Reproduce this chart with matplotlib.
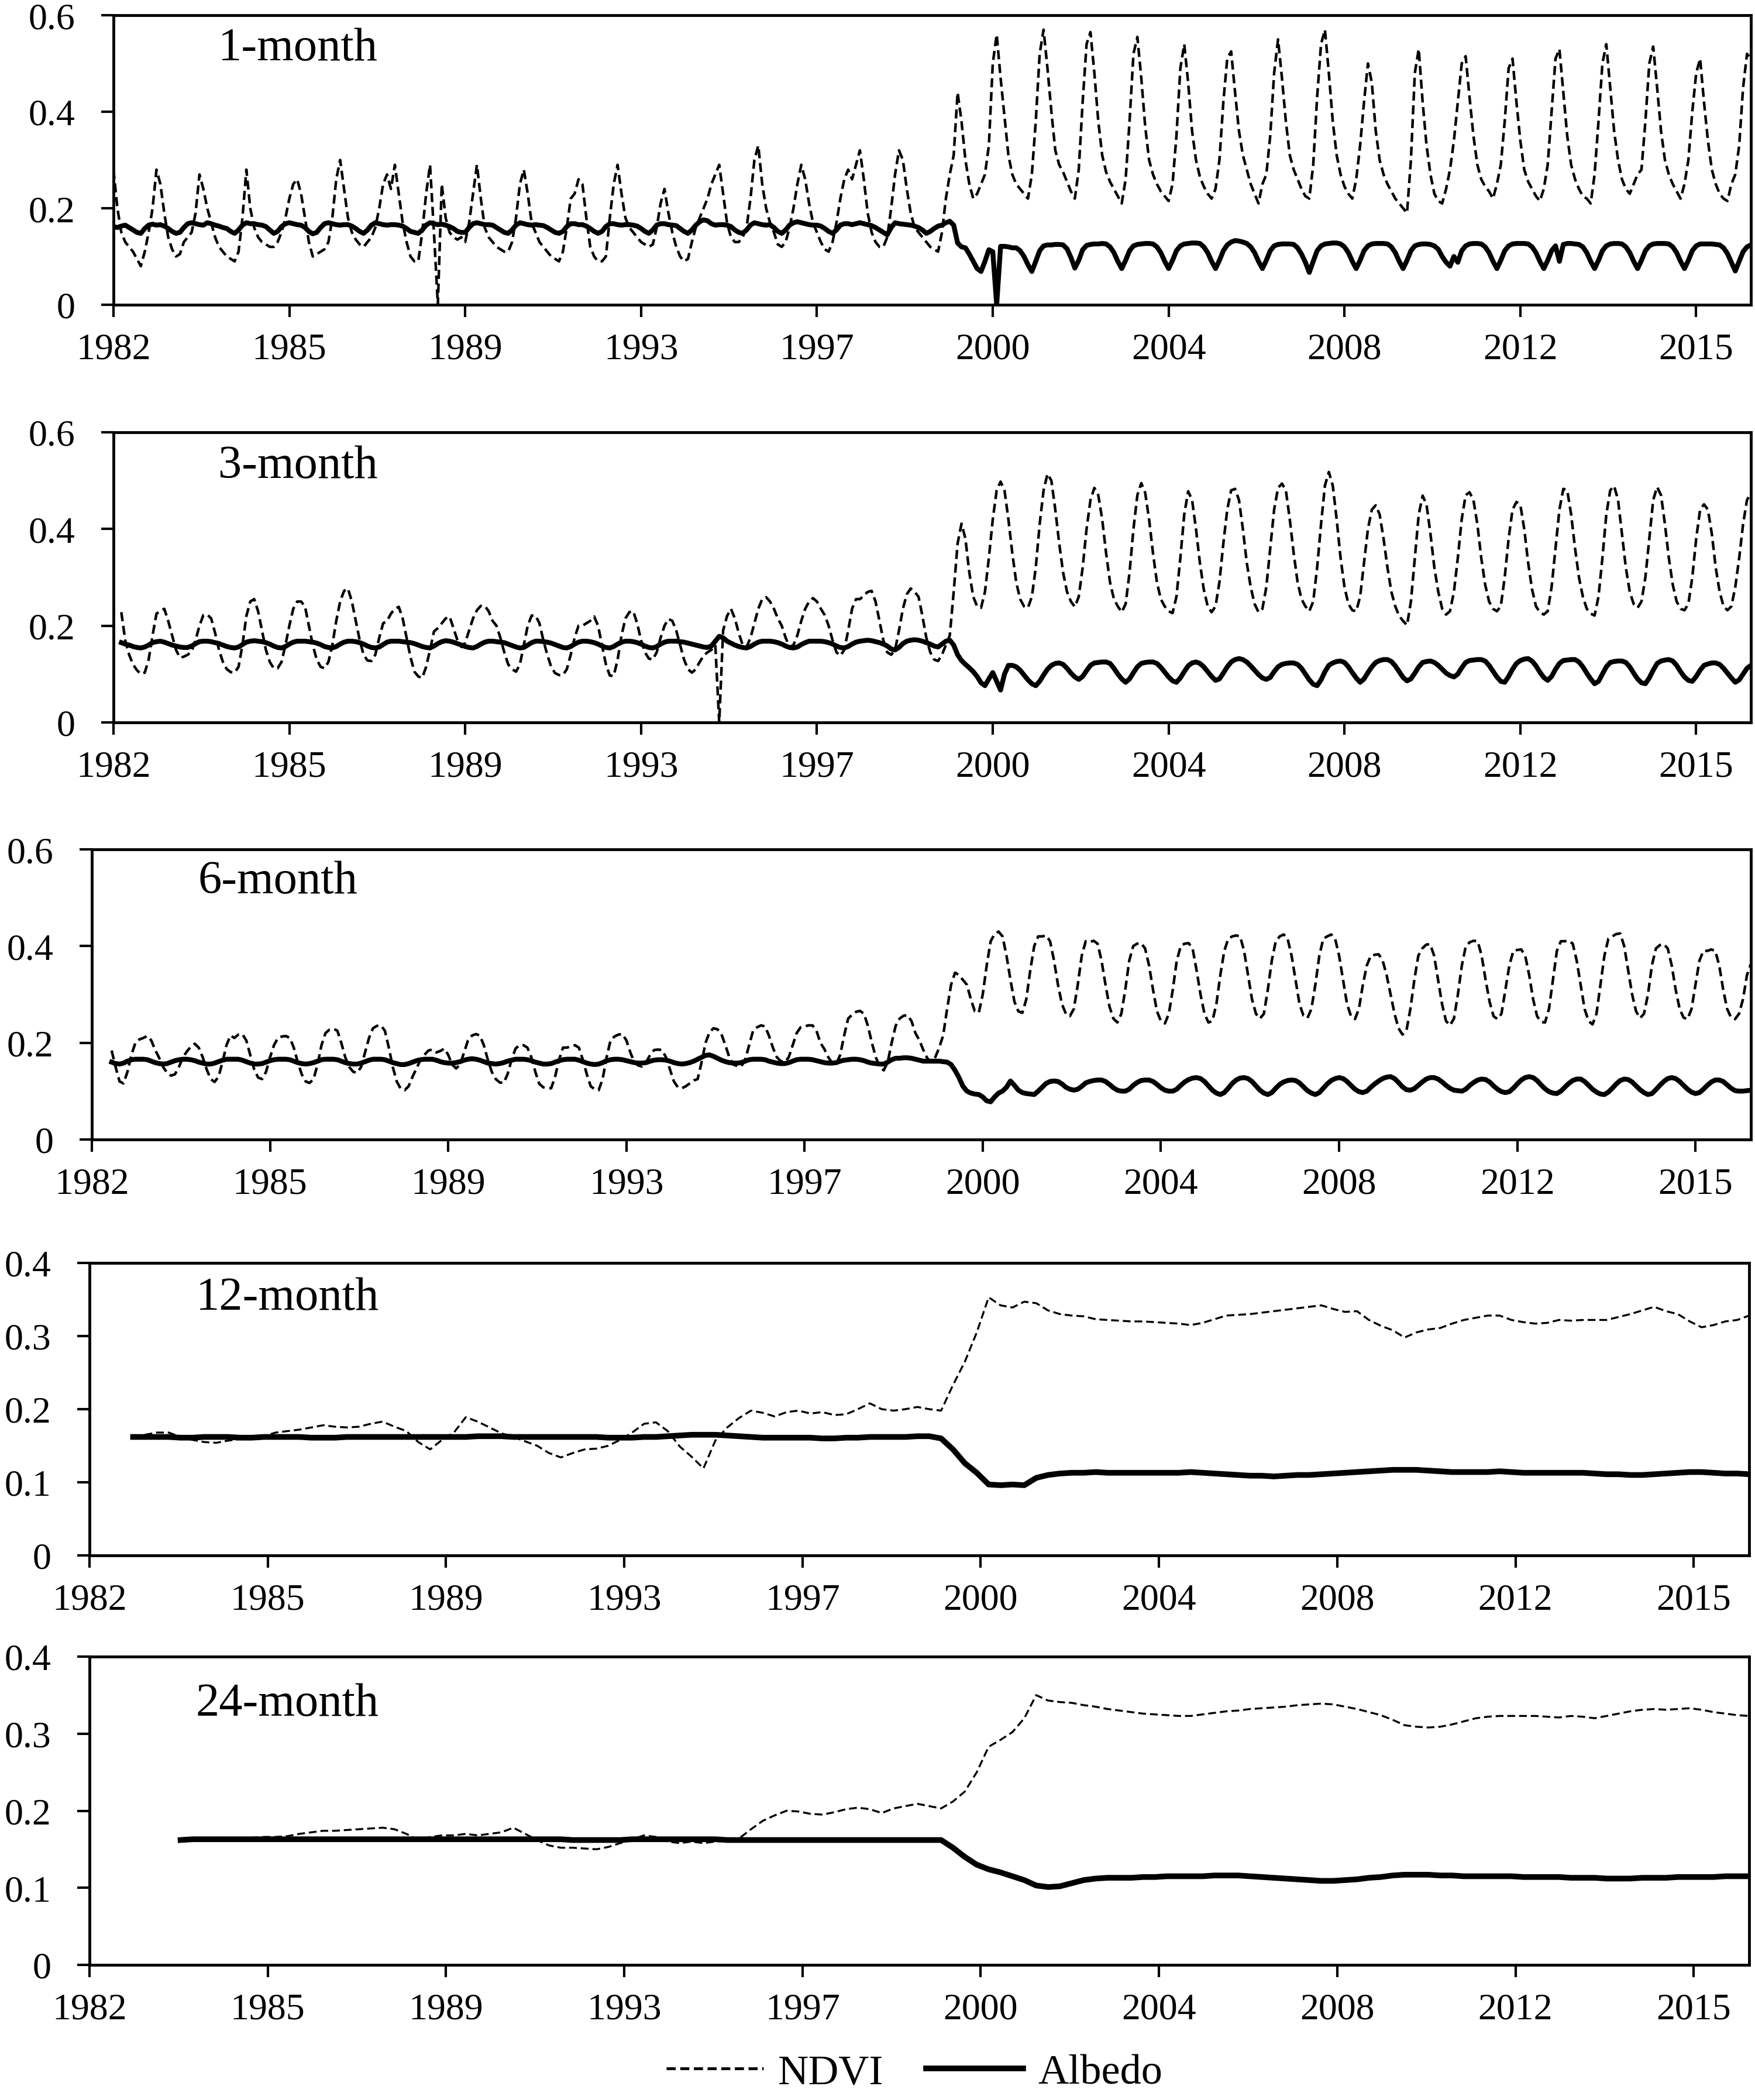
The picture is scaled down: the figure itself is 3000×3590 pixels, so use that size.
import numpy as np
import matplotlib
matplotlib.use("Agg")
import matplotlib.pyplot as plt
from matplotlib.lines import Line2D

plt.rcParams["font.family"] = ["Liberation Serif", "DejaVu Serif"]

# x axis is a monthly category axis (Jan 1982 .. Dec 2016), labelled every 45 months
YEAR_LABELS = ["1982", "1985", "1989", "1993", "1997",
               "2000", "2004", "2008", "2012", "2015"]
LABEL_STEP = 45
N_MONTHS = 420

# values in 1/1000, one row per year (12 months), "-" = no value
NDVI_1 = """
280 200 150 130 120 110 095 080 110 150 200 280
250 190 140 115 100 105 130 140 150 190 270 240
200 170 140 120 110 100 095 090 110 180 280 200
160 140 130 125 120 120 130 150 180 220 250 260
230 180 130 100 105 110 115 130 180 260 300 240
180 150 135 125 120 130 140 160 200 250 270 240
290 230 170 130 100 090 090 150 230 290 150 000
250 180 150 140 135 140 130 170 230 290 220 160
140 130 120 115 110 110 130 180 250 280 230 170
150 130 120 110 100 095 090 110 160 220 230 260
250 180 120 100 090 090 100 180 250 290 230 180
160 150 140 130 125 120 125 160 210 240 190 150
120 100 090 095 130 160 180 200 220 250 270 290
230 170 140 130 130 140 160 220 300 330 250 200
170 150 125 120 130 160 200 250 290 260 210 170
150 130 115 110 130 170 220 260 280 260 290 320
260 190 150 130 120 120 140 200 270 320 300 240
190 160 150 140 130 120 115 110 150 220 270 310
440 380 300 250 220 230 250 270 330 500 560 470
390 310 270 250 240 230 220 270 380 520 570 490
400 320 290 275 255 235 220 280 420 540 565 480
380 310 275 255 240 225 210 260 380 520 555 470
370 300 270 250 235 225 215 250 350 490 540 460
360 300 265 245 230 220 240 300 420 510 525 440
360 310 280 250 230 210 250 270 350 480 550 470
380 310 280 260 240 225 220 290 430 540 570 480
380 310 270 245 230 220 260 330 420 500 460 360
300 270 250 235 220 210 200 190 300 480 530 420
330 270 230 215 210 240 280 340 420 500 515 430
350 290 260 245 235 220 250 290 380 490 510 420
340 280 255 240 225 215 240 290 400 510 530 440
350 290 260 240 225 220 210 270 380 500 540 450
360 300 260 240 230 250 270 280 380 500 535 450
360 300 270 250 235 220 250 300 400 480 510 420
340 280 250 230 220 215 250 270 330 450 520 510
"""

ALBEDO_1 = """
162 160 163 165 160 155 150 148 158 165 167 165
166 163 158 152 148 150 160 168 170 168 166 165
170 168 165 163 160 158 152 148 155 165 170 168
168 166 165 162 155 148 152 162 168 170 168 166
165 160 152 147 150 160 168 170 168 166 165 166
166 163 158 152 148 155 165 170 168 166 165 166
166 165 163 158 152 150 148 155 165 170 168 166
167 165 162 158 152 150 150 160 168 170 168 166
166 165 160 155 150 148 155 165 170 168 166 165
166 165 164 160 155 150 148 152 162 168 168 166
166 163 158 152 148 152 162 168 168 166 165 166
166 165 163 158 152 148 155 165 168 168 166 165
164 158 152 148 155 165 172 176 174 168 165 166
166 165 162 155 150 148 155 165 170 168 166 165
166 160 152 148 155 165 170 172 170 168 166 165
165 163 158 152 148 155 165 168 168 166 168 170
168 166 164 160 155 150 145 160 170 168 167 166
165 163 160 155 148 152 158 163 165 170 173 165
128 120 118 105 090 075 069 090 114 110 000 121
121 120 118 118 112 100 083 069 090 112 122 124
124 125 125 124 116 098 076 092 114 123 125 126
126 127 126 120 108 090 075 092 112 122 125 126
127 127 126 120 108 090 075 092 112 122 126 127
128 128 127 120 108 090 075 092 112 124 130 133
132 130 127 120 108 090 075 092 112 122 125 126
126 126 125 118 105 088 067 090 112 122 126 127
128 128 126 120 108 090 075 092 112 122 126 127
127 127 126 120 108 090 075 092 112 122 125 126
126 125 122 115 100 088 080 100 088 112 122 126
127 127 126 120 108 090 075 092 112 122 126 127
127 127 126 120 108 090 075 092 112 122 090 125
127 127 126 125 120 108 090 075 092 112 122 126
127 127 126 120 108 090 075 092 112 122 126 127
127 127 126 120 108 090 075 092 112 122 126 126
126 126 125 124 118 106 088 070 090 110 120 124
"""

NDVI_3 = """
- - 228 170 140 120 108 100 103 130 180 225
230 235 210 180 150 134 136 140 147 170 200 222
223 215 185 150 125 110 104 103 115 160 220 250
255 230 190 150 125 112 112 125 160 200 235 250
250 240 200 160 130 115 112 125 160 210 250 272
277 250 210 170 140 128 127 140 175 205 210 225
235 239 215 175 135 105 095 092 115 150 188 195
205 215 219 195 170 156 165 190 215 232 241 241
230 210 200 175 145 120 110 105 120 160 200 221
221 205 170 140 115 102 098 098 110 140 175 200
200 205 210 219 200 160 120 097 096 130 180 215
228 230 205 170 145 132 130 145 175 200 214 210
190 160 130 110 103 110 125 138 145 150 160 000
190 220 235 215 185 160 156 175 205 235 255 259
250 235 215 200 175 156 160 180 210 235 250 257
250 235 222 200 170 145 138 150 190 235 255 255
262 270 272 250 210 170 145 140 150 190 235 265
277 270 260 220 175 145 130 127 140 160 180 270
370 411 380 310 260 240 237 270 340 420 480 498
480 420 350 290 255 240 237 260 320 410 480 514
500 440 370 310 270 250 239 260 320 400 460 485
470 420 350 290 255 240 228 245 310 400 470 495
475 420 350 290 255 240 230 226 260 340 430 478
460 400 330 275 240 228 240 290 370 440 480 483
460 400 330 280 245 228 235 280 360 440 485 494
480 420 350 290 255 240 230 250 320 410 490 518
490 420 340 280 245 232 230 260 330 400 440 449
430 380 320 270 240 220 210 201 250 340 430 469
450 390 320 270 235 223 230 270 340 420 470 476
460 410 340 285 250 235 230 240 300 380 440 456
450 400 330 275 240 228 223 230 280 360 440 483
480 430 360 300 260 235 225 221 260 340 430 480
489 460 390 320 270 245 237 250 300 380 460 487
470 410 340 285 250 235 232 245 300 380 440 451
440 390 320 270 240 232 240 280 340 410 460 474
"""

ALBEDO_3 = """
- - 165 162 160 157 155 154 156 160 165 167
168 166 163 160 158 156 155 155 158 163 167 168
168 167 165 163 160 157 155 154 156 161 166 168
169 168 167 165 162 158 155 154 157 162 166 168
168 168 167 166 164 161 157 155 154 157 162 166
168 168 167 165 162 158 155 154 156 161 166 168
168 168 167 166 165 163 160 157 155 154 158 163
167 169 168 166 163 160 157 155 154 157 162 166
168 168 167 166 165 162 159 156 154 155 160 165
168 168 167 166 164 161 158 155 154 157 162 166
168 168 167 165 162 158 155 154 157 162 166 168
168 167 165 162 158 155 154 157 162 166 168 168
168 167 166 164 162 160 158 156 155 158 168 178
175 168 164 160 157 155 154 157 162 166 168 168
168 167 165 162 158 155 154 156 161 165 168 168
168 168 167 165 162 158 155 154 157 162 166 168
169 170 169 167 165 162 158 152 150 155 163 168
170 171 170 168 165 162 158 156 162 168 170 160
140 128 120 113 105 095 082 076 090 103 085 067
100 118 118 115 108 098 088 080 076 085 098 110
118 122 123 120 112 102 094 089 095 107 118 123
124 125 125 122 112 100 090 083 090 103 115 122
124 125 125 122 114 104 094 086 083 092 105 117
123 125 122 115 105 095 087 090 102 115 125 130
132 130 125 117 108 099 092 089 093 105 115 120
122 123 123 120 112 100 088 079 076 088 105 118
123 126 127 124 115 103 092 083 090 103 115 124
128 130 130 126 117 105 093 086 090 102 115 124
126 127 124 118 110 102 097 094 100 113 124 128
129 130 130 127 118 106 094 085 083 095 110 122
128 131 132 127 117 104 093 087 095 110 122 128
129 130 130 125 115 102 090 080 085 100 115 124
126 127 127 124 115 102 090 082 080 092 108 122
127 129 130 127 118 105 094 087 085 095 108 118
121 123 123 120 112 102 092 083 088 100 112 118
"""

NDVI_6 = """
- - - - - 184 150 120 116 140 175 200
207 210 214 205 185 169 150 138 132 135 150 170
182 192 198 190 170 145 125 119 130 160 195 215
210 217 218 205 175 145 128 125 140 170 195 210
213 214 210 190 160 135 120 117 125 155 195 220
227 229 225 200 170 150 140 138 150 180 210 230
235 236 225 190 150 120 105 102 110 130 147 165
175 184 186 180 183 188 175 155 147 155 180 205
215 218 215 195 165 140 125 118 117 135 165 188
195 195 190 170 140 115 108 106 106 130 165 190
190 193 195 190 165 135 110 104 102 125 170 205
213 217 218 205 180 160 153 151 160 175 185 186
185 170 145 120 108 106 110 116 122 125 160 200
222 230 228 218 195 170 155 152 151 165 195 225
232 236 234 215 190 170 162 160 170 195 220 232
234 236 236 225 200 187 170 158 156 175 215 250
258 264 266 260 235 200 170 150 143 160 200 235
250 256 257 245 220 205 185 168 160 170 190 215
270 320 345 340 330 320 290 265 262 300 360 410
425 430 420 380 330 285 265 262 290 350 400 420
420 422 410 370 320 280 260 255 270 320 380 410
408 411 405 370 320 275 250 242 260 310 370 400
405 406 395 360 310 265 245 240 260 310 370 400
405 406 395 350 300 260 242 245 280 340 390 415
420 422 420 390 340 290 260 250 260 310 370 410
420 424 415 380 330 280 256 251 270 320 380 415
420 424 415 380 330 280 255 249 270 320 360 380
382 383 370 340 300 260 230 217 225 270 330 380
395 403 404 380 330 280 245 236 250 300 360 400
408 411 410 380 330 285 255 249 260 310 360 390
392 393 380 340 290 255 243 242 270 330 390 410
410 411 405 370 320 270 245 238 260 320 380 415
420 425 426 400 350 300 265 251 260 300 360 395
402 404 395 360 310 270 252 249 270 320 370 390
390 393 390 360 310 270 252 249 260 290 340 363
"""

ALBEDO_6 = """
- - - - - 160 157 156 158 162 165 166
166 166 165 162 159 157 156 157 160 163 165 166
166 165 163 160 158 156 156 158 161 164 166 166
166 166 164 161 158 156 156 157 160 163 165 166
166 166 165 162 159 157 156 157 159 162 165 166
166 166 165 162 159 157 156 156 158 161 164 166
166 166 165 162 159 157 155 155 157 160 163 165
166 166 166 164 161 159 158 158 159 161 164 166
167 166 164 161 158 157 156 157 159 162 164 166
166 166 165 163 160 158 156 156 157 160 163 165
166 166 166 164 161 158 156 155 156 159 163 165
166 166 165 163 161 159 158 158 159 162 164 165
165 164 162 159 157 156 157 159 162 166 170 174
175 172 168 164 161 159 158 158 159 162 165 166
166 166 165 162 160 158 157 157 159 162 165 166
166 166 165 163 161 159 158 158 159 162 164 165
166 166 165 163 160 158 157 156 156 160 165 168
168 169 169 168 166 164 162 162 162 162 162 161
160 155 143 128 110 100 096 094 093 088 080 078
088 096 100 108 121 112 102 097 095 094 093 100
108 116 120 121 120 115 108 104 102 104 110 117
120 122 123 123 120 114 107 102 100 100 104 112
118 122 123 123 120 114 107 102 100 100 104 112
119 124 127 128 126 120 111 102 096 093 097 106
116 123 127 128 126 120 111 102 096 093 097 106
114 119 122 123 122 117 109 101 096 093 097 106
115 122 126 128 126 120 112 104 099 097 100 108
115 121 126 129 130 126 118 109 103 102 105 112
119 125 128 128 125 119 112 106 102 101 100 104
112 118 123 125 124 119 111 104 099 097 099 106
115 123 128 130 128 122 113 105 099 096 095 100
108 116 122 125 125 120 112 104 098 094 093 098
106 115 122 125 124 119 111 103 097 093 095 103
112 120 126 128 126 120 112 104 098 095 097 104
112 119 123 123 120 113 106 101 100 100 101 102
"""

# 12- and 24-month series, read every 3rd month starting at month 11 / 23
NDVI_12 = """
162 165 168 168 162 158 155 154 157 159 159 163 168 170 172 175 178 176 175 176
180 183 176 170 155 145 158 168 189 183 175 167 162 156 150 140 134 140 145 146
150 158 168 180 182 170 149 135 119 157 175 188 198 195 190 196 198 194 196 192
193 200 208 200 198 200 203 200 198 233 265 305 353 342 339 347 345 335 330 328
327 323 322 321 320 320 319 318 317 315 318 323 328 329 330 332 334 336 338 340
342 337 333 334 322 314 308 298 305 309 311 317 322 325 328 328 322 319 317 318
322 321 322 322 322 326 330 335 340 334 330 320 312 315 320 322 328
"""

ALBEDO_12 = """
162 162 162 162 161 161 162 162 162 161 161 162 162 162 162 161 161 161 162 162
162 162 162 162 162 162 162 162 162 163 163 163 162 162 162 162 162 162 162 162
161 161 161 162 162 163 164 165 165 165 164 163 162 161 161 161 161 161 160 160
161 161 162 162 162 162 163 163 160 145 126 113 097 096 097 096 106 110 112 113
113 114 113 113 113 113 113 113 113 114 113 112 111 110 109 109 108 109 110 110
111 112 113 114 115 116 117 117 117 116 115 114 114 114 114 115 114 113 113 113
113 113 113 112 111 111 110 110 111 112 113 114 114 113 112 112 111
"""

NDVI_24 = """
164 165 164 165 165 164 165 166 166 167 170 172 174 174 175 176 177 178 176 170
162 166 168 168 170 168 170 172 178 170 162 155 152 152 151 150 153 158 163 168
166 160 158 160 158 160 162 164 176 187 194 200 199 196 195 198 202 204 202 197
203 206 209 206 203 212 225 250 283 292 302 320 350 343 341 340 337 335 332 330
328 326 325 324 323 323 325 327 329 330 332 333 334 335 337 338 339 338 335 332
328 324 318 311 309 308 309 312 316 320 322 323 323 323 323 322 321 323 322 320
323 326 329 331 332 331 332 333 331 328 326 324 323
"""

ALBEDO_24 = """
162 163 163 163 163 163 163 163 163 163 163 163 163 163 163 163 163 163 163 163
163 163 163 163 163 163 163 163 163 163 163 163 163 162 162 162 162 162 163 163
163 163 163 163 163 163 162 162 162 162 162 162 162 162 162 162 162 162 162 162
162 162 162 162 162 152 140 130 124 120 115 110 103 101 102 106 110 112 113 113
113 114 114 115 115 115 115 116 116 116 115 114 113 112 111 110 109 109 110 111
113 114 116 117 117 117 116 116 115 115 115 115 115 114 114 114 114 113 113 113
112 112 112 113 113 113 114 114 114 114 115 115 115
"""

W, H = 3000, 3591
# panel frames in pixels: left, top, right, bottom
PANELS = [
    ("1-month", NDVI_1, ALBEDO_1, 0, 1, 0.6, (194, 27, 2993, 522), 0.885),
    ("3-month", NDVI_3, ALBEDO_3, 0, 1, 0.6, (194, 740, 2993, 1236), 0.885),
    ("6-month", NDVI_6, ALBEDO_6, 0, 1, 0.6, (157, 1453, 2993, 1949), 0.89),
    ("12-month", NDVI_12, ALBEDO_12, 11, 3, 0.4, (153, 2160, 2990, 2660), 0.88),
    ("24-month", NDVI_24, ALBEDO_24, 23, 3, 0.4, (153, 2833, 2990, 3360), 0.847),
]


def series(block, start, step):
    vals = np.array([np.nan if t == "-" else int(t) / 1000
                     for t in block.split()])
    return start + step * np.arange(len(vals)), vals


def tick_text(v):
    return "0" if v == 0 else f"{v:.1f}"


fig = plt.figure(figsize=(W / 100, H / 100), dpi=100)

for name, ndvi, albedo, start, step, ymax, (l, t, r, b), label_y in PANELS:
    ax = fig.add_axes([l / W, 1 - b / H, (r - l) / W, (b - t) / H])
    smooth = step > 1
    x, v = series(ndvi, start, step)
    if smooth:
        ax.plot(x, v, color="black", lw=2.4, dashes=(4, 2))
    else:
        ax.plot(x, v, color="black", lw=3.2, dashes=(3.5, 1.8))
    x, v = series(albedo, start, step)
    ax.plot(x, v, color="black", lw=7 if smooth else 6,
            solid_joinstyle="round")

    ax.set_xlim(0, N_MONTHS - 1)
    ax.set_ylim(0, ymax)
    ax.set_xticks(np.arange(len(YEAR_LABELS)) * LABEL_STEP, YEAR_LABELS)
    yt = np.round(np.arange(0, ymax + 1e-9, 0.2 if ymax > 0.5 else 0.1), 1)
    ax.set_yticks(yt, [tick_text(y) for y in yt])
    ax.tick_params(direction="out", length=15, width=3, labelsize=46)
    ax.tick_params(axis="x", pad=19)
    ax.tick_params(axis="y", pad=32)
    for s in ax.spines.values():
        s.set_linewidth(3.5)
    ax.text(0.064, label_y, name, transform=ax.transAxes, fontsize=58,
            ha="left", va="center")

handles = [Line2D([], [], color="black", lw=3.5, dashes=(3.2, 1.6)),
           Line2D([], [], color="black", lw=7)]
fig.legend(handles, ["NDVI", "Albedo"], loc="center", ncol=2,
           bbox_to_anchor=(0.521, 0.013), frameon=False, fontsize=52,
           handlelength=2.3, columnspacing=1.0, handletextpad=0.35)

fig.savefig("out.png", dpi=100)
